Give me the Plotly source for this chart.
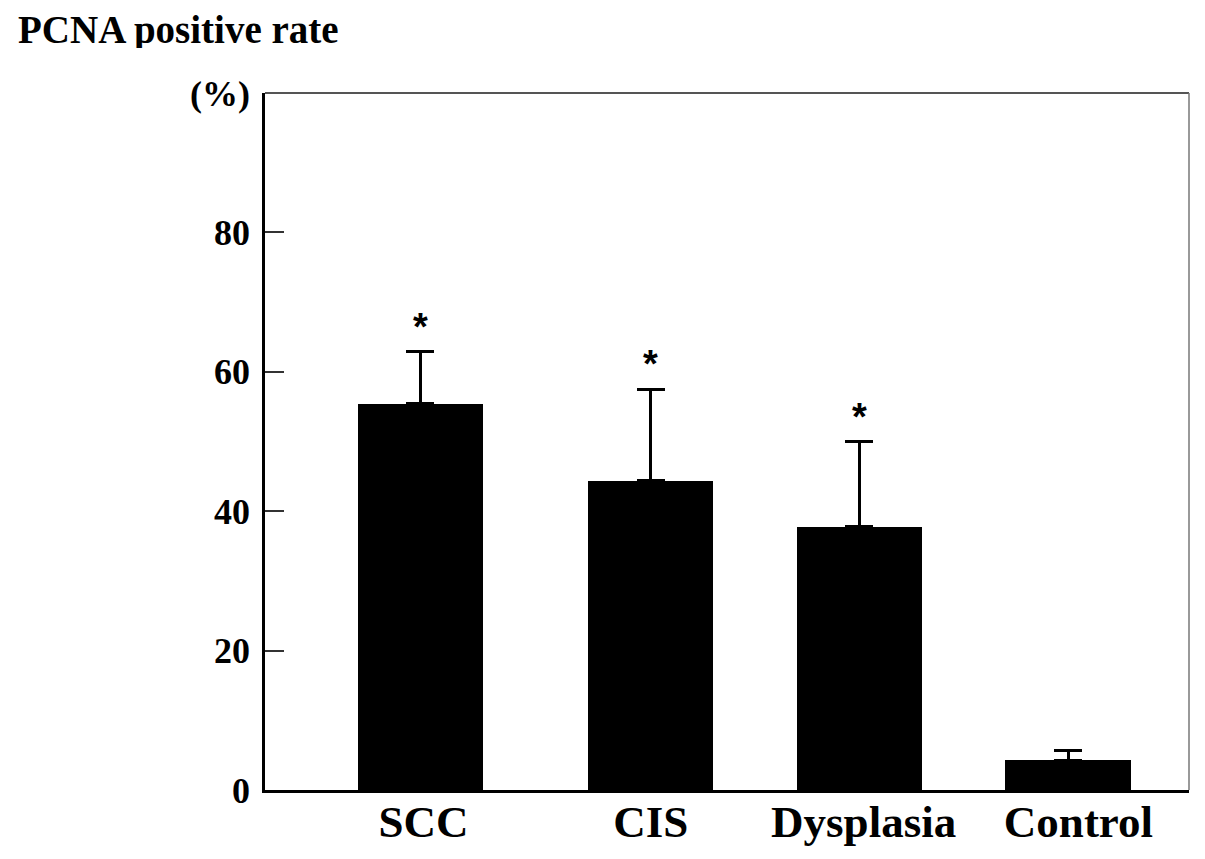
import plotly.graph_objects as go

# values
groups = ["SCC", "CIS", "Dysplasia", "Control"]
rate = [55.4, 44.4, 37.8, 4.3]
sd_up = [7.5, 13.1, 12.2, 1.3]
marked = [True, True, True, False]

y_ticks = [0, 20, 40, 60, 80, 100]
y_labels = ["0", "20", "40", "60", "80", "(%)"]

# layout: bar centres and label centres along a plain numeric x axis
bar_pos = [0.745, 1.85, 2.85, 3.85]
label_pos = [0.76, 1.85, 2.87, 3.90]

SERIF = "Liberation Serif, Times New Roman, serif"
SANS = "Liberation Sans, Arial, sans-serif"

fig = go.Figure()
fig.add_trace(go.Bar(
    x=bar_pos, y=rate, width=0.6,
    marker=dict(color="black", line=dict(width=0)),
    error_y=dict(type="data", symmetric=False, array=sd_up,
                 arrayminus=[0] * len(sd_up),
                 color="black", thickness=3, width=14),
    showlegend=False,
))

for x, v, e, m in zip(bar_pos, rate, sd_up, marked):
    if m:
        fig.add_annotation(x=x, y=v + e, text="*", showarrow=False,
                           yanchor="bottom", yshift=2,
                           font=dict(family=SANS, size=38, color="black", weight="bold"))

fig.add_annotation(xref="paper", yref="paper", x=-0.268, y=1.09,
                   xanchor="left", yanchor="middle", text="PCNA positive rate",
                   showarrow=False, height=36, borderpad=0, valign="middle",
                   font=dict(family=SERIF, size=39, color="black", weight="bold"))

# top and right frame lines (lighter than the axes)
fig.add_shape(type="line", xref="paper", yref="paper", x0=0, x1=1, y0=1, y1=1,
              line=dict(color="#555555", width=2))
fig.add_shape(type="line", xref="paper", yref="paper", x0=1, x1=1, y0=0, y1=1,
              line=dict(color="#777777", width=1.5))

# page body keeps an 8 px margin, so the figure is 16 px smaller than the window
fig.update_layout(
    width=1189, height=843,
    margin=dict(l=257, r=8, t=85, b=61),
    plot_bgcolor="white", paper_bgcolor="white",
    bargap=0,
)
fig.update_xaxes(
    range=[0, 4.43], showgrid=False, zeroline=False, automargin=False,
    showline=True, linecolor="black", linewidth=2.5,
    tickvals=label_pos, ticktext=groups, ticks="",
    tickfont=dict(family=SERIF, size=45, color="black", weight="bold"),
    ticklabelstandoff=-10,
)
fig.update_yaxes(
    range=[0, 100], showgrid=False, zeroline=False, automargin=False,
    showline=True, linecolor="black", linewidth=2.5,
    tickvals=y_ticks, ticktext=y_labels,
    ticks="inside", ticklen=19, tickwidth=2, tickcolor="#333333",
    tickfont=dict(family=SERIF, size=36, color="black", weight="bold"),
    ticklabelstandoff=5,
)

fig.write_html("out.html")
